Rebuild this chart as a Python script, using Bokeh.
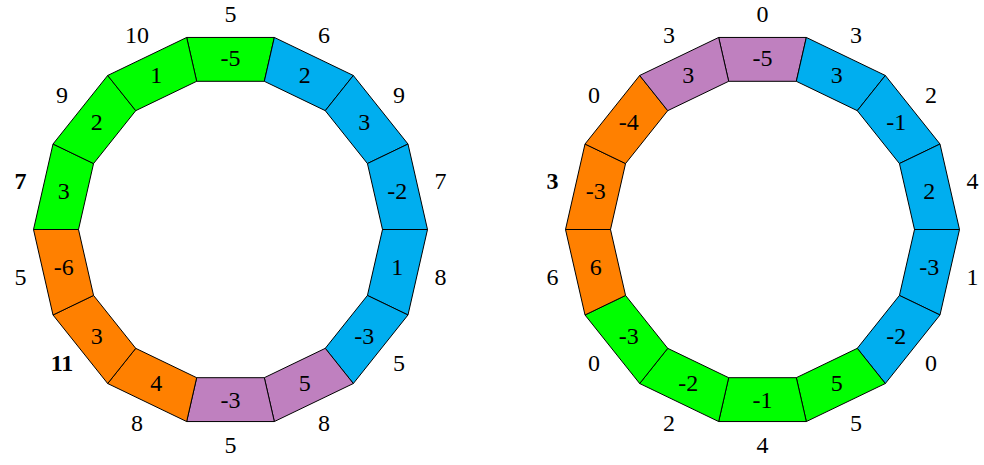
import numpy as np
from bokeh.plotting import figure
from bokeh.models import Range1d, ColumnDataSource
from bokeh.core.properties import value
from bokeh.embed import file_html
from bokeh.resources import INLINE

GREEN = "#00FF00"
BLUE = "#00AEEF"
PURPLE = "#BF80BF"
ORANGE = "#FF8000"

# Ring segments listed clockwise starting from the top segment
left_inner = [-5, 2, 3, -2, 1, -3, 5, -3, 4, 3, -6, 3, 2, 1]
left_colors = [GREEN, BLUE, BLUE, BLUE, BLUE, BLUE, PURPLE, PURPLE,
               ORANGE, ORANGE, ORANGE, GREEN, GREEN, GREEN]
left_outer = [5, 6, 9, 7, 8, 5, 8, 5, 8, 11, 5, 7, 9, 10]
left_bold = [False, False, False, False, False, False, False, False,
             False, True, False, True, False, False]

right_inner = [-5, 3, -1, 2, -3, -2, 5, -1, -2, -3, 6, -3, -4, 3]
right_colors = [PURPLE, BLUE, BLUE, BLUE, BLUE, BLUE, GREEN, GREEN,
                GREEN, GREEN, ORANGE, ORANGE, ORANGE, PURPLE]
right_outer = [0, 3, 2, 4, 1, 0, 5, 4, 2, 0, 6, 3, 0, 3]
right_bold = [False, False, False, False, False, False, False, False,
              False, False, False, True, False, False]

W, H = 984, 465
R_OUT, R_IN = 197.0, 152.0
R_LAB_IN, R_LAB_OUT = 171.0, 215.5
FONT = "Liberation Serif"
FSIZE = "24px"

p = figure(width=W, height=H, output_backend="svg", toolbar_location=None,
           x_range=Range1d(0, W), y_range=Range1d(0, H), min_border=0)
p.axis.visible = False
p.grid.visible = False
p.outline_line_color = None
p.background_fill_color = "white"
p.border_fill_color = "white"


def ring(cx, cy, inner, colors, outer, bold):
    n = len(inner)
    step = 2 * np.pi / n
    xs, ys, lx, ly, ox, oy = [], [], [], [], [], []
    for k in range(n):
        th = np.pi / 2 - k * step
        a0, a1 = th + step / 2, th - step / 2
        xs.append([cx + R_OUT * np.cos(a0), cx + R_OUT * np.cos(a1),
                   cx + R_IN * np.cos(a1), cx + R_IN * np.cos(a0)])
        ys.append([cy + R_OUT * np.sin(a0), cy + R_OUT * np.sin(a1),
                   cy + R_IN * np.sin(a1), cy + R_IN * np.sin(a0)])
        lx.append(cx + R_LAB_IN * np.cos(th))
        ly.append(cy + R_LAB_IN * np.sin(th))
        ox.append(cx + R_LAB_OUT * np.cos(th))
        oy.append(cy + R_LAB_OUT * np.sin(th))
    p.patches(xs=xs, ys=ys, fill_color=colors, line_color="black", line_width=1)
    src_in = ColumnDataSource(dict(x=lx, y=ly, t=[str(v) for v in inner]))
    p.text(x="x", y="y", text="t", source=src_in, text_font=value(FONT),
           text_font_size=FSIZE, text_align="center", text_baseline="middle",
           text_color="black")
    src_out = ColumnDataSource(dict(x=ox, y=oy, t=[str(v) for v in outer],
                                    s=["bold" if b else "normal" for b in bold]))
    p.text(x="x", y="y", text="t", source=src_out, text_font=value(FONT),
           text_font_size=FSIZE, text_font_style="s", text_align="center",
           text_baseline="middle", text_color="black")


ring(230, H - 229, left_inner, left_colors, left_outer, left_bold)
ring(762, H - 229, right_inner, right_colors, right_outer, right_bold)

open("out.html", "w").write(file_html(p, INLINE))
